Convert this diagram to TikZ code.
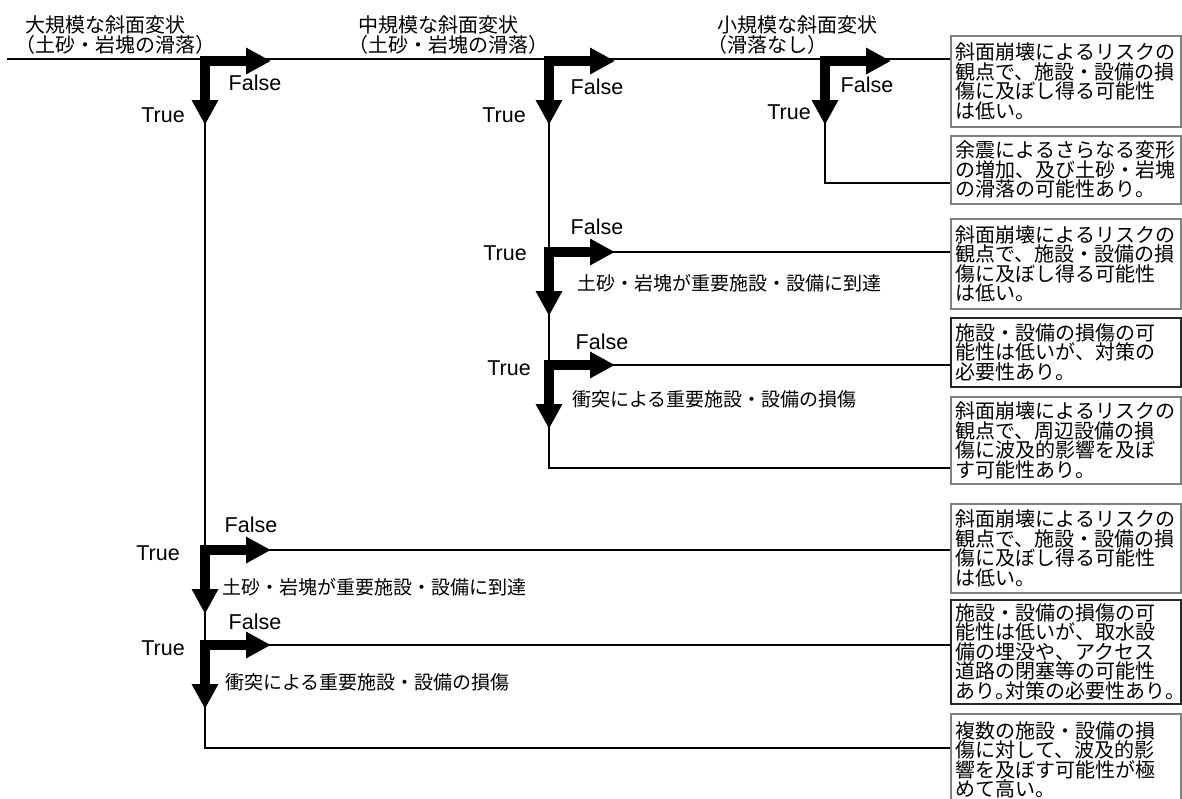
\documentclass[tikz,border=0pt]{standalone}
\usepackage{fontspec}
\newfontfamily\jpfont{Noto Sans CJK JP}
\newfontfamily\lafont{Liberation Sans}
\usetikzlibrary{positioning,arrows.meta,calc}

\begin{document}
\begin{tikzpicture}[x=1pt, y=-1pt,
  outbox/.style={draw=black!50, line width=1.5pt, anchor=north west, text width=220pt, inner xsep=5pt, inner ysep=0pt, align=left, font=\jpfont\fontsize{20}{19.5}\selectfont},
  head/.style={anchor=north west, inner sep=0pt, align=left, font=\jpfont\fontsize{20}{20}\selectfont},
  cond/.style={anchor=west, inner sep=0pt, font=\jpfont\fontsize{19}{20}\selectfont},
  tf/.style={inner sep=0pt, font=\lafont\fontsize{21.5}{22}\selectfont},
  thin/.style={line width=1.3pt},
  bigarrow/.style={line width=10pt, line join=miter, {Triangle[length=25pt,width=25pt]}-{Triangle[length=25pt,width=25pt]}}]
\useasboundingbox (0,0) rectangle (1182,798);

\node[outbox, minimum height=91pt] (b1) at (950,35) {斜面崩壊によるリスクの\\観点で、施設・設備の損\\傷に及ぼし得る可能性\\は低い。};
\node[outbox, minimum height=68pt] (b2) at (950,135) {余震によるさらなる変形\\の増加、及び土砂・岩塊\\の滑落の可能性あり。};
\node[outbox, minimum height=90pt] (b3) at (950,218) {斜面崩壊によるリスクの\\観点で、施設・設備の損\\傷に及ぼし得る可能性\\は低い。};
\node[outbox, draw=black!85, minimum height=69pt] (b4) at (950,317) {施設・設備の損傷の可\\能性は低いが、対策の\\必要性あり。};
\node[outbox, minimum height=87pt] (b5) at (950,396) {斜面崩壊によるリスクの\\観点で、周辺設備の損\\傷に波及的影響を及ぼ\\す可能性あり。};
\node[outbox, minimum height=89pt] (b6) at (950,503) {斜面崩壊によるリスクの\\観点で、施設・設備の損\\傷に及ぼし得る可能性\\は低い。};
\node[outbox, draw=black!85, minimum height=104pt] (b7) at (950,599) {施設・設備の損傷の可\\能性は低いが、取水設\\備の埋没や、アクセス\\道路の閉塞等の可能性\\{\addfontfeature{RawFeature=+halt}あり。}対策の必要性あり{\addfontfeature{RawFeature=+halt}。}};
\node[outbox, minimum height=92pt] (b8) at (950,713) {複数の施設・設備の損\\傷に対して、波及的影\\響を及ぼす可能性が極\\めて高い。};

\node[head] (h1) at (25,15) {大規模な斜面変状\\\hspace*{-0.5em}（土砂・岩塊の滑落）};
\node[head] (h2) at (358,15) {中規模な斜面変状\\\hspace*{-0.5em}（土砂・岩塊の滑落）};
\node[head] (h3) at (717,15) {小規模な斜面変状\\\hspace*{-0.5em}（滑落なし）};

\coordinate (s0) at (7,59);
\coordinate (d1) at (205,61);
\coordinate (d2) at (549,61);
\coordinate (d3) at (825,61);
\coordinate (d2a) at (549,252);
\coordinate (d2b) at (549,365);
\coordinate (d1a) at (205,550);
\coordinate (d1b) at (205,645);
\coordinate (e2) at (825,183);
\coordinate (e5) at (549,468);
\coordinate (e8) at (205,748);

\draw[thin] (s0) -- (s0 -| b1.west);
\draw[thin] (d3) -- (e2) -- (e2 -| b2.west);
\draw[thin] (d2) -- (e5) -- (e5 -| b5.west);
\draw[thin] (d1) -- (e8) -- (e8 -| b8.west);
\foreach \d/\b in {d2a/b3,d2b/b4,d1a/b6,d1b/b7}
  \draw[thin] (\d) -- (\d -| \b.west);
\foreach \d in {d1,d2,d3,d2a,d2b,d1a,d1b}
  \draw[bigarrow] ($(\d)+(66,0)$) -- (\d) -- ($(\d)+(0,64)$);

\node[tf] (f1) at ($(d1)+(50,22)$) {False};
\node[tf] (t1) at ($(d1)+(-42,54)$) {True};
\node[tf] (f2) at ($(d2)+(48,26)$) {False};
\node[tf] (t2) at ($(d2)+(-45,54)$) {True};
\node[tf] (f3) at ($(d3)+(42,24)$) {False};
\node[tf] (t3) at ($(d3)+(-36,51)$) {True};
\node[tf] (f2a) at ($(d2a)+(48,-25)$) {False};
\node[tf] (t2a) at ($(d2a)+(-44,1)$) {True};
\node[tf] (f2b) at ($(d2b)+(53,-23)$) {False};
\node[tf] (t2b) at ($(d2b)+(-40,3)$) {True};
\node[tf] (f1a) at ($(d1a)+(46,-25)$) {False};
\node[tf] (t1a) at ($(d1a)+(-47,3)$) {True};
\node[tf] (f1b) at ($(d1b)+(50,-23)$) {False};
\node[tf] (t1b) at ($(d1b)+(-42,3)$) {True};

\node[cond] (c2a) at ($(d2a)+(28,31)$) {土砂・岩塊が重要施設・設備に到達};
\node[cond] (c2b) at ($(d2b)+(23,34)$) {衝突による重要施設・設備の損傷};
\node[cond] (c1a) at ($(d1a)+(17,37)$) {土砂・岩塊が重要施設・設備に到達};
\node[cond] (c1b) at ($(d1b)+(20,37)$) {衝突による重要施設・設備の損傷};
\end{tikzpicture}
\end{document}
